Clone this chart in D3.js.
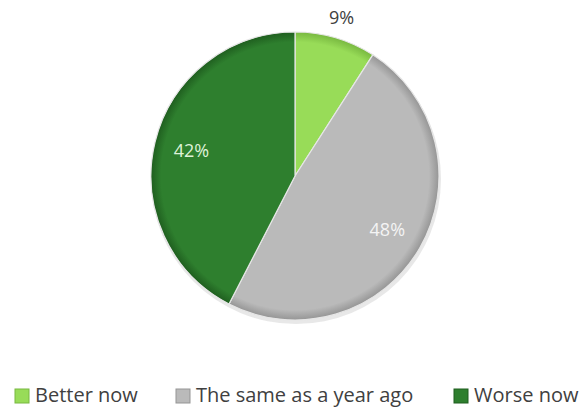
<!DOCTYPE html>
<html>
<head>
<meta charset="utf-8">
<script src="https://cdn.jsdelivr.net/npm/d3@7"></script>
<style>
  body { margin: 0; background: #fff; }
  svg { display: block; font-family: "Open Sans", "DejaVu Sans", sans-serif; }
</style>
</head>
<body>
<svg width="586" height="408"></svg>
<script>
// pie data
const categories = ["Better now", "The same as a year ago", "Worse now"];
const values = [9, 48, 42];
const labels = ["9%", "48%", "42%"];
const colors = ["#98dc58", "#bababa", "#2e7f2e"];
const rimColors = ["#78b840", "#959595", "#1f5e1f"];

const svg = d3.select("svg");
const cx = 295, cy = 176, radius = 144;

const defs = svg.append("defs");
categories.forEach((c, i) => {
  const grad = defs.append("radialGradient")
    .attr("id", "grad" + i)
    .attr("gradientUnits", "userSpaceOnUse")
    .attr("cx", 0).attr("cy", 0).attr("r", radius);
  grad.append("stop").attr("offset", "0%").attr("stop-color", colors[i]);
  grad.append("stop").attr("offset", "93%").attr("stop-color", colors[i]);
  grad.append("stop").attr("offset", "100%").attr("stop-color", rimColors[i]);
});

const g = svg.append("g").attr("transform", `translate(${cx},${cy})`);

const pie = d3.pie().sort(null).value(d => d);
const arcs = pie(values);
const arc = d3.arc().innerRadius(0).outerRadius(radius);

// soft shadow under the pie
g.append("circle")
  .attr("cx", 1).attr("cy", 3)
  .attr("r", radius + 1)
  .attr("fill", "#d8d8d8")
  .attr("opacity", 0.6);

g.selectAll(".slice")
  .data(arcs)
  .enter().append("path")
  .attr("class", "slice")
  .attr("d", arc)
  .attr("fill", (d, i) => `url(#grad${i})`)
  .attr("stroke", "#e6e6e6")
  .attr("stroke-width", 1.2)
  .attr("stroke-linejoin", "round");

// percentage labels
const labelArc = d3.arc().innerRadius(radius * 0.74).outerRadius(radius * 0.74);
const outerArc = d3.arc().innerRadius(radius + 21).outerRadius(radius + 21);
const labelColors = ["#404040", "#f4f4f4", "#dff2d8"];

g.selectAll(".pct")
  .data(arcs)
  .enter().append("text")
  .attr("class", "pct")
  .attr("transform", (d, i) => {
    const p = i === 0 ? outerArc.centroid(d) : labelArc.centroid(d);
    return `translate(${p[0]},${p[1]})`;
  })
  .attr("text-anchor", "middle")
  .attr("dy", "0.35em")
  .attr("font-size", 18)
  .attr("fill", (d, i) => labelColors[i])
  .text((d, i) => labels[i]);

// legend
const legendX = [15, 176, 454];
const legend = svg.append("g").attr("transform", "translate(0,388)");
categories.forEach((c, i) => {
  const item = legend.append("g").attr("transform", `translate(${legendX[i]},0)`);
  item.append("rect")
    .attr("y", 1)
    .attr("width", 14).attr("height", 14)
    .attr("fill", colors[i])
    .attr("stroke", rimColors[i])
    .attr("stroke-width", 1);
  item.append("text")
    .attr("x", 20).attr("y", 14)
    .attr("font-size", 20)
    .attr("fill", "#404040")
    .text(c);
});
</script>
</body>
</html>
